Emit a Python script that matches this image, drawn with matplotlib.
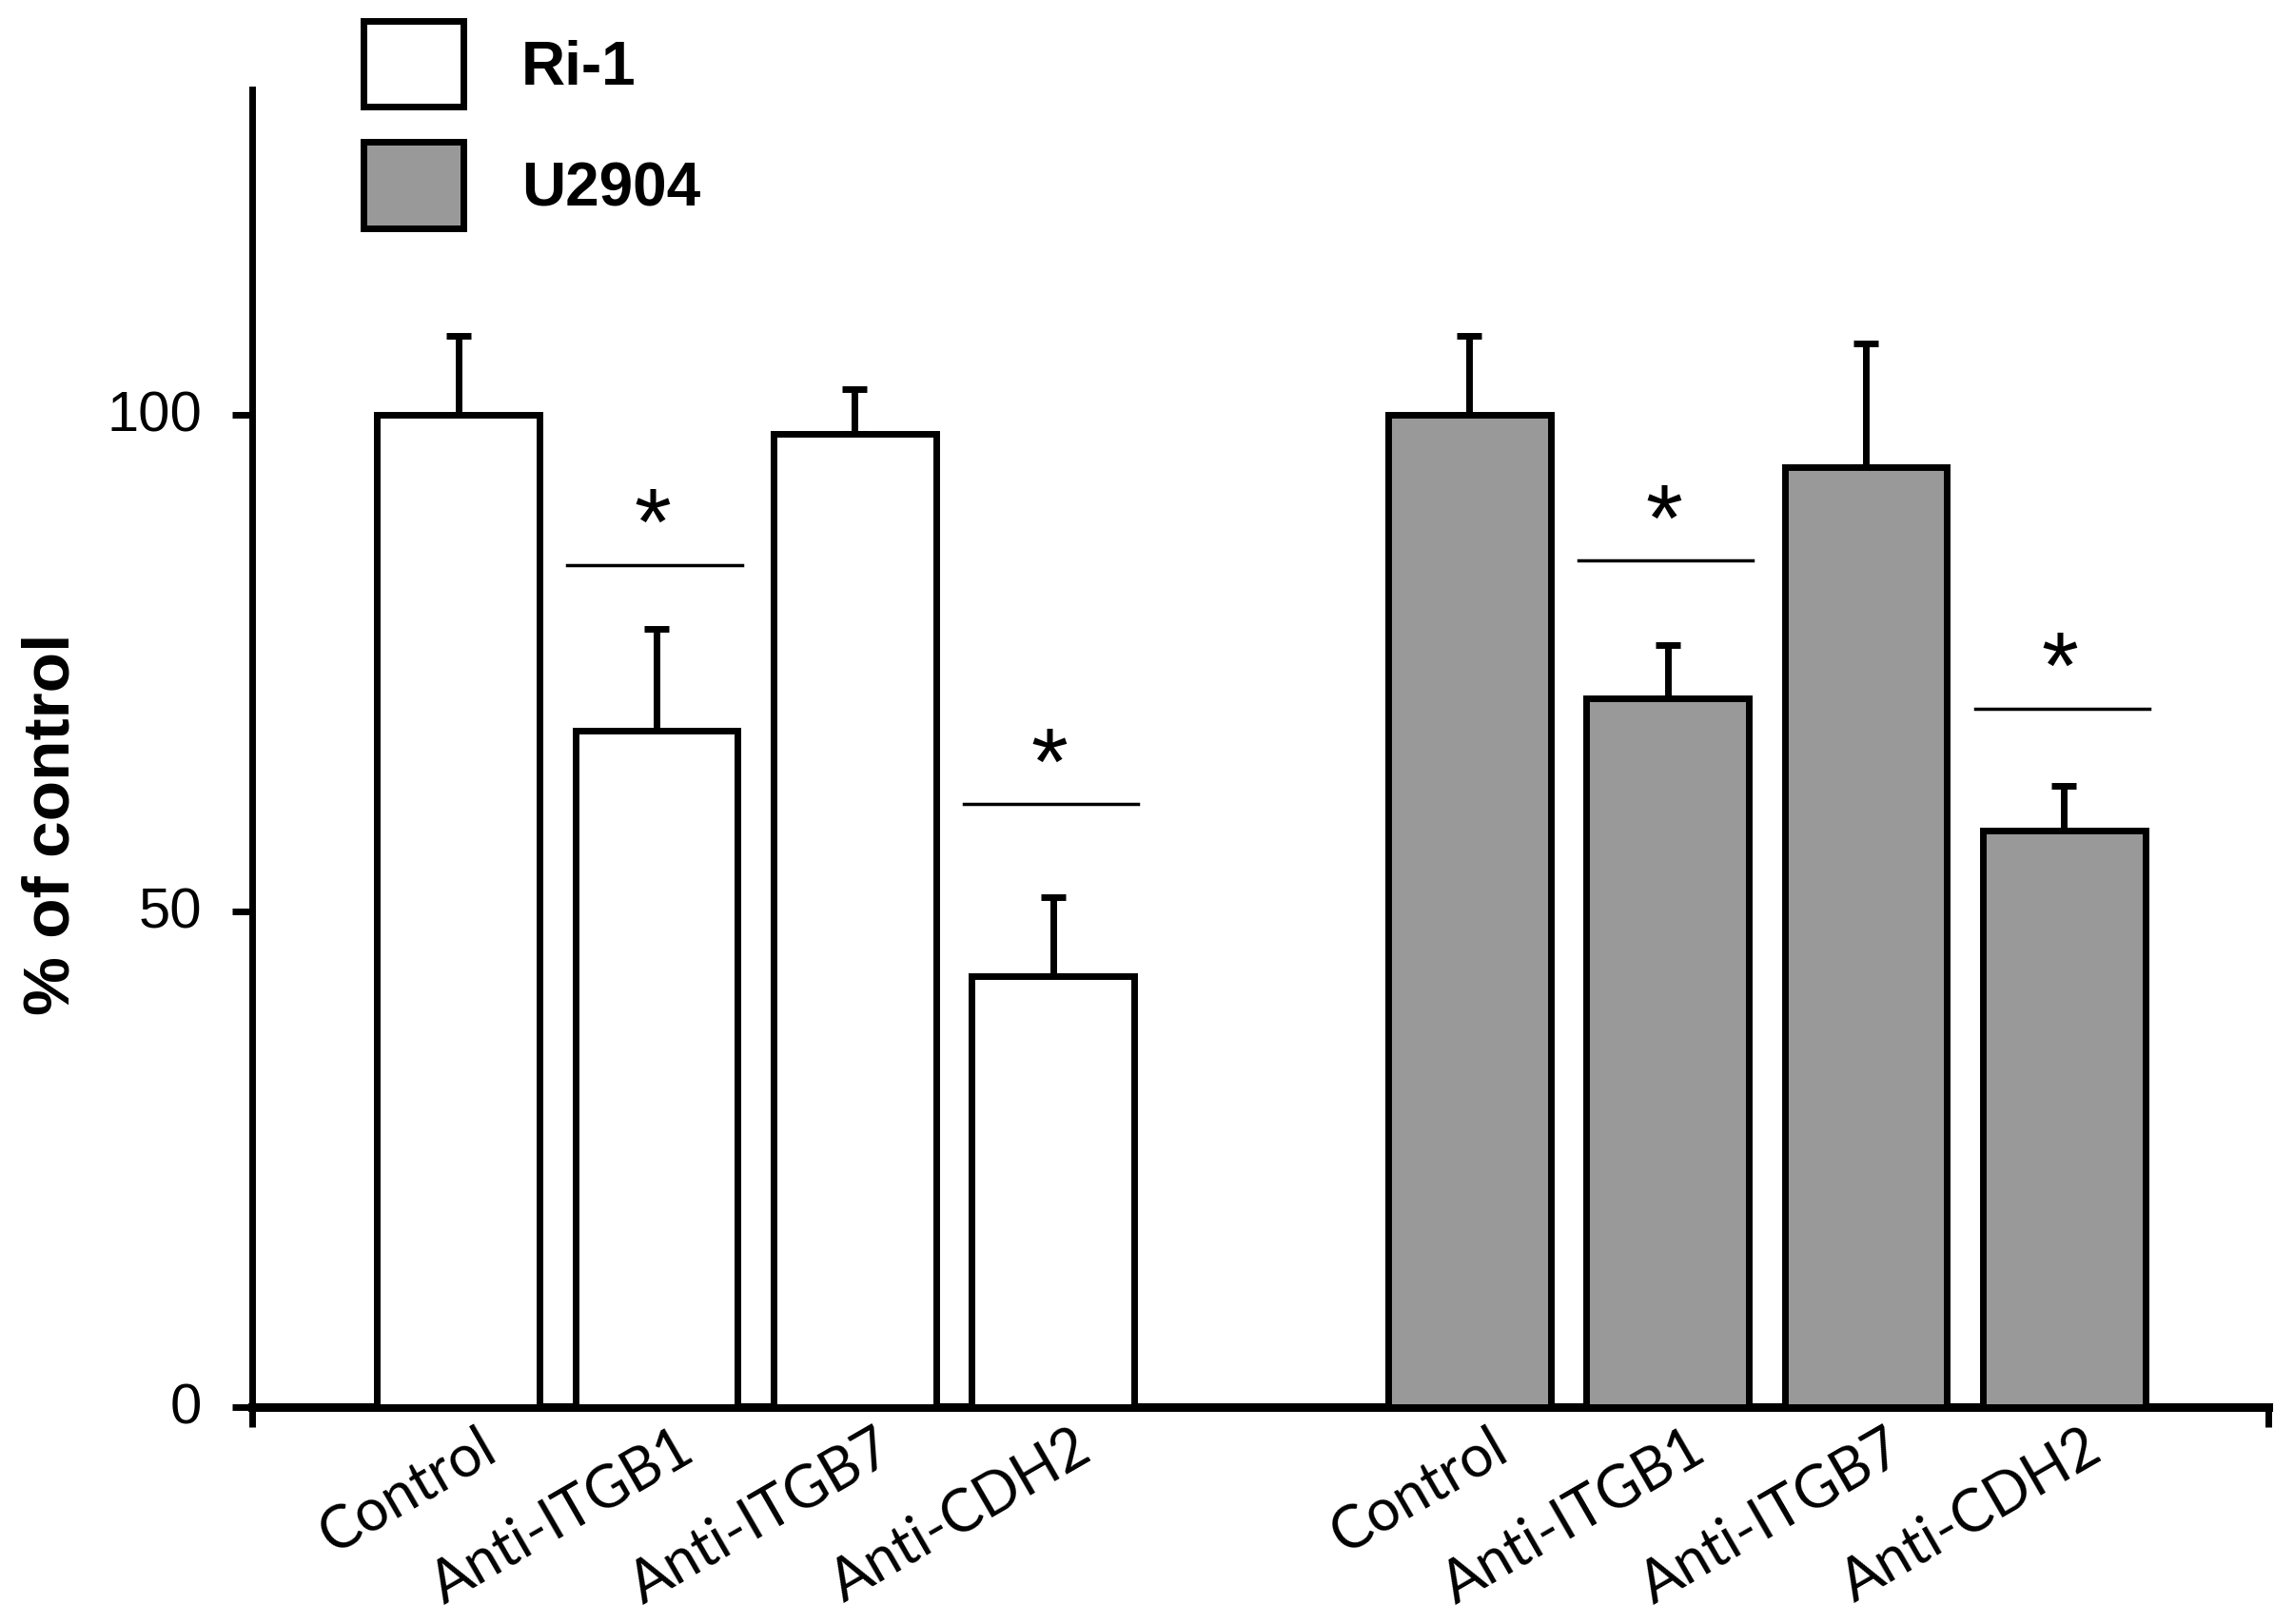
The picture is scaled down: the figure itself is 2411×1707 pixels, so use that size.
import numpy as np
import matplotlib
matplotlib.use("Agg")
import matplotlib.pyplot as plt
from matplotlib.transforms import ScaledTranslation

# values
treatments = ["Control", "Anti-ITGB1", "Anti-ITGB7", "Anti-CDH2"]
ri1_mean = [100, 68.2, 98.1, 43.4]
ri1_err = [8.0, 10.2, 4.5, 8.0]
u2904_mean = [100, 71.4, 94.7, 58.1]
u2904_err = [8.0, 5.4, 12.5, 4.5]
# height of the significance line over each bar (None = no mark)
ri1_sig = [None, 84.9, None, 60.8]
u2904_sig = [None, 85.3, None, 70.4]
yticks = [0, 50, 100]

x_ri = np.arange(len(treatments)) + 1.04
x_u = np.arange(len(treatments)) + 6.14
bar_w = 0.82

fig = plt.figure(figsize=(24.11, 17.08), dpi=100)
ax = fig.add_axes([0.1099, 0.1335, 0.8789, 0.8109])

bars_ri = ax.bar(x_ri, ri1_mean, width=bar_w, color="white", edgecolor="black",
                 linewidth=5, label="Ri-1", zorder=3)
bars_u = ax.bar(x_u, u2904_mean, width=bar_w, color="#999999", edgecolor="black",
                linewidth=5, label="U2904", zorder=3)

for xs, m, e in [(x_ri, ri1_mean, ri1_err), (x_u, u2904_mean, u2904_err)]:
    ax.errorbar(xs, m, yerr=[np.zeros(len(e)), e], fmt="none", ecolor="black",
                elinewidth=5, capsize=9.5, capthick=5, zorder=2)

for xs, sig in [(x_ri, ri1_sig), (x_u, u2904_sig)]:
    for x, s in zip(xs, sig):
        if s is None:
            continue
        ax.plot([x - 0.45, x + 0.43], [s, s], color="black", lw=2.5, zorder=3)
        ax.text(x - 0.02, s + 3.6, "*", ha="center", va="center", fontsize=72,
                family="Liberation Sans", zorder=3)

ax.set_xlim(0, 10.17)
ax.set_ylim(0, 132.8)
for side in ["top", "right"]:
    ax.spines[side].set_visible(False)
ax.spines["left"].set_linewidth(5)
ax.spines["bottom"].set_linewidth(6.5)

ax.set_yticks(yticks)
ax.set_yticklabels([str(t) for t in yticks], family="Liberation Sans", fontsize=43)
ax.tick_params(axis="y", direction="out", length=15, width=5, pad=23)
for lab in ax.get_yticklabels():
    lab.set_transform(lab.get_transform() + ScaledTranslation(0, 0.05, fig.dpi_scale_trans))

ax.set_xticks(list(x_ri) + list(x_u))
ax.set_xticklabels(treatments * 2, rotation=30, ha="right", rotation_mode="anchor",
                   fontsize=44, family="Lato")
ax.tick_params(axis="x", which="major", length=0, pad=9)
ax.set_xticks([0, 10.17], minor=True)
ax.tick_params(axis="x", which="minor", direction="out", length=15, width=5)
for lab in ax.get_xticklabels():
    lab.set_transform(lab.get_transform() + ScaledTranslation(0.2, 0, fig.dpi_scale_trans))

fig.text(55 / 2411, 1 - 866 / 1708, "% of control", rotation=90, ha="center",
         va="center", fontsize=50, family="Liberation Sans", weight="bold")

ax.legend(handles=[bars_ri, bars_u], loc="upper left",
          bbox_to_anchor=(382 / 2411, 1 - 23 / 1708), bbox_transform=fig.transFigure,
          frameon=False, borderpad=0, borderaxespad=0, handlelength=1.65,
          handleheight=1.80, labelspacing=0.58, handletextpad=0.95,
          prop={"family": "Liberation Sans", "weight": "bold", "size": 46})

fig.savefig("out.png", dpi=100)
